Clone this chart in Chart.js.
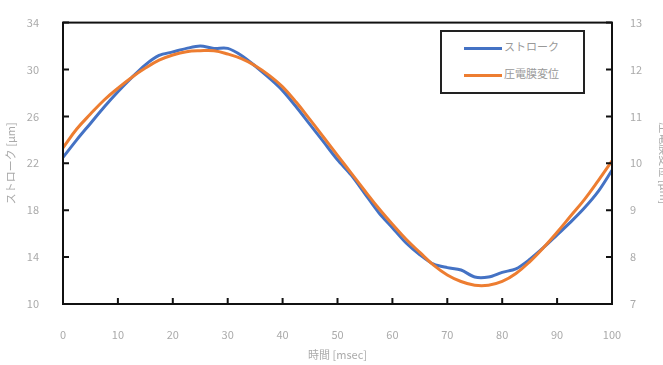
<!DOCTYPE html>
<html>
<head>
    <title>ストローク / 圧電膜変位</title>
    <script src="https://cdn.jsdelivr.net/npm/chart.js"></script>
    <style>
        body { margin: 0; width: 663px; height: 365px; overflow: hidden; background: #fff; }
        #wrap { position: relative; width: 675px; height: 365px; }
        #legend {
            position: absolute; left: 440px; top: 30px; width: 141px; height: 60px;
            border: 2px solid #222; background: #fff;
            font-family: "Noto Sans CJK JP", sans-serif; font-size: 11px; color: #999;
        }
        .row { position: absolute; left: 22px; height: 14px; line-height: 14px; }
        .row span { display: inline-block; width: 38px; height: 3px; vertical-align: middle; margin-right: 2px; }
    </style>
</head>
<body>
    <div id="wrap">
        <canvas id="chart" width="675" height="365"></canvas>
        <div id="legend">
            <div class="row" style="top:7px"><span style="background:#4472C4"></span>ストローク</div>
            <div class="row" style="top:34px"><span style="background:#ED7D31"></span>圧電膜変位</div>
        </div>
    </div>

    <script>
    // 時間 [msec]
    const times = [0, 2.5, 5, 7.5, 10, 12.5, 15, 17.5, 20, 22.5, 25, 27.5, 30, 32.5, 35, 37.5, 40,
        42.5, 45, 47.5, 50, 52.5, 55, 57.5, 60, 62.5, 65, 67.5, 70, 72.5, 75, 77.5, 80,
        82.5, 85, 87.5, 90, 92.5, 95, 97.5, 100];
    // ストローク [μm] (左軸)
    const stroke = [22.5, 24.0, 25.4, 26.8, 28.1, 29.3, 30.4, 31.2, 31.5, 31.8, 32.0, 31.8, 31.8, 31.2,
        30.3, 29.3, 28.2, 26.8, 25.3, 23.8, 22.3, 21.0, 19.4, 17.8, 16.5, 15.2, 14.2, 13.4,
        13.1, 12.9, 12.3, 12.3, 12.7, 13.0, 13.8, 14.8, 15.9, 17.0, 18.2, 19.6, 21.4];
    // 圧電膜変位 [μm] (右軸)
    const piezo = [10.33, 10.73, 11.05, 11.35, 11.6, 11.83, 12.03, 12.2, 12.31, 12.38, 12.4, 12.4,
        12.33, 12.23, 12.08, 11.88, 11.63, 11.3, 10.93, 10.55, 10.17, 9.79, 9.41, 9.04, 8.7,
        8.38, 8.1, 7.83, 7.62, 7.48, 7.4, 7.4, 7.48, 7.65, 7.9, 8.2, 8.53, 8.88, 9.23, 9.63, 10.05];

    const font = { family: '"Noto Sans CJK JP", sans-serif', size: 11 };
    const textColor = '#aaa';

    // 枠と内向きの目盛り
    const frame = {
        id: 'frame',
        afterDraw(chart) {
            const ctx = chart.ctx, a = chart.chartArea;
            ctx.save();
            ctx.strokeStyle = '#111';
            ctx.lineWidth = 2;
            ctx.strokeRect(a.left, a.top, a.right - a.left, a.bottom - a.top);
            ctx.beginPath();
            chart.scales.x.ticks.forEach(t => {
                const px = chart.scales.x.getPixelForValue(t.value);
                ctx.moveTo(px, a.bottom); ctx.lineTo(px, a.bottom - 6);
            });
            chart.scales.y.ticks.forEach(t => {
                const py = chart.scales.y.getPixelForValue(t.value);
                ctx.moveTo(a.left, py); ctx.lineTo(a.left + 6, py);
            });
            chart.scales.y2.ticks.forEach(t => {
                const py = chart.scales.y2.getPixelForValue(t.value);
                ctx.moveTo(a.right, py); ctx.lineTo(a.right - 6, py);
            });
            ctx.stroke();
            ctx.restore();
        }
    };

    new Chart(document.getElementById('chart'), {
        type: 'line',
        data: {
            datasets: [{
                label: 'ストローク',
                data: times.map((t, i) => ({ x: t, y: stroke[i] })),
                borderColor: '#4472C4',
                borderWidth: 3,
                pointRadius: 0,
                tension: 0.3,
                yAxisID: 'y',
                order: 1
            }, {
                label: '圧電膜変位',
                data: times.map((t, i) => ({ x: t, y: piezo[i] })),
                borderColor: '#ED7D31',
                borderWidth: 3,
                pointRadius: 0,
                tension: 0.4,
                yAxisID: 'y2',
                order: 0
            }]
        },
        options: {
            responsive: false,
            animation: false,
            layout: { padding: { top: 20 } },
            plugins: { legend: { display: false }, tooltip: { enabled: false } },
            scales: {
                x: {
                    type: 'linear', min: 0, max: 100,
                    grid: { display: false },
                    border: { display: false },
                    ticks: { stepSize: 10, color: textColor, font: font, padding: 16 },
                    title: { display: true, text: '時間 [msec]', color: textColor, font: font, padding: { top: 6 } },
                    afterFit(s) { s.height = 61; }
                },
                y: {
                    position: 'left', min: 10, max: 34,
                    grid: { display: false },
                    border: { display: false },
                    ticks: { stepSize: 4, color: textColor, font: font, padding: 16 },
                    title: { display: true, text: 'ストローク [μm]', color: textColor, font: font },
                    afterFit(s) { s.width = 63; }
                },
                y2: {
                    position: 'right', min: 7, max: 13,
                    grid: { display: false },
                    border: { display: false },
                    ticks: { stepSize: 1, color: textColor, font: font, padding: 10 },
                    title: { display: true, text: '圧電膜変位 [μm]', color: textColor, font: font },
                    afterFit(s) { s.width = 63; }
                }
            }
        },
        plugins: [frame]
    });
    </script>
</body>
</html>
